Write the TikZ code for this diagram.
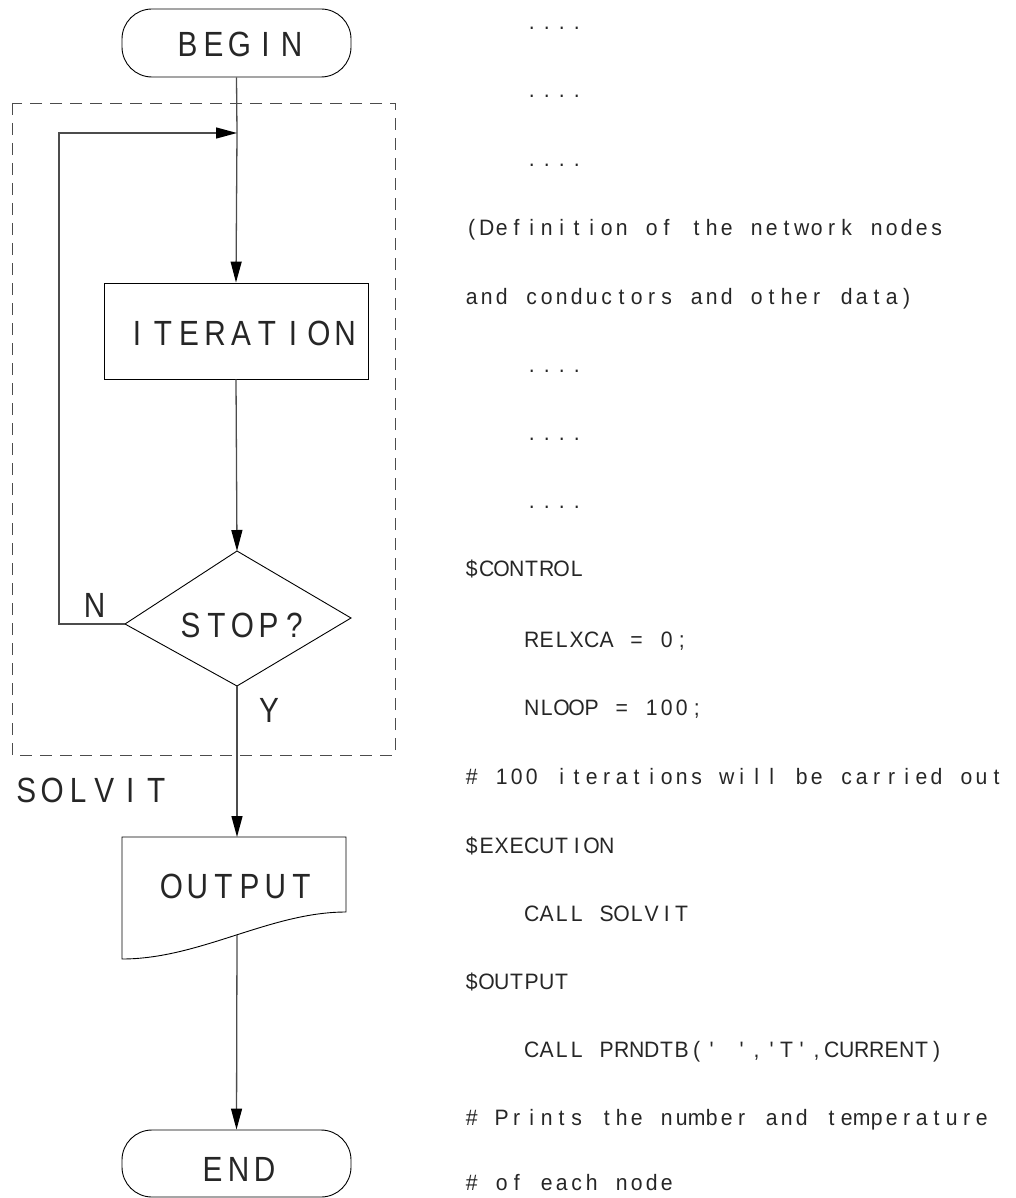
\documentclass[tikz,border=0pt]{standalone}
\usepackage{fontspec}
\usetikzlibrary{arrows.meta}
\newfontfamily\flowfont[FakeStretch=0.85]{Liberation Sans}
\newfontfamily\codefont[FakeStretch=0.95]{Liberation Sans}
\makeatletter
\def\mono@end{\mono@end@}
\newcommand\monoline[2]{\begingroup\def\mono@w{#1}\mono@scan#2\mono@end\endgroup}
\def\mono@scan#1{\ifx\mono@end#1\else\makebox[\mono@w][c]{#1}\expandafter\mono@scan\fi}
\makeatother
\newcommand\bigmono[1]{\monoline{26pt}{#1}}
\newcommand\smallmono[1]{\monoline{15pt}{#1}}
\begin{document}
\begin{tikzpicture}[x=1pt,y=-1pt,
  shapeline/.style={draw=black, line width=0.9pt},
  conn/.style={draw=black!70, line width=1.3pt, -{Triangle[length=21pt,width=11pt,color=black]}},
  flowtext/.style={font=\flowfont\fontsize{35}{38}\selectfont, text=black!85, inner sep=0pt},
  codetext/.style={font=\codefont\fontsize{22.3}{24}\selectfont, text=black!85, inner sep=0pt, anchor=base west},
  terminal/.style={shapeline, rectangle, rounded corners=30pt, minimum width=229pt, minimum height=68pt},
  dashedbox/.style={draw=black!70, line width=0.9pt, dash pattern=on 12pt off 8pt}
]
\useasboundingbox (0,0) rectangle (1015,1198);

% dashed SOLVIT frame
\draw[dashedbox] (12,103) rectangle (395,755);
\node[flowtext, anchor=west] (solvit) at (13,790) {\bigmono{SOLVIT}};

% terminals
\node[terminal] (begin) at (236.5,43) {};
\node[flowtext] (begintxt) at (239.5,44.5) {\bigmono{BEGIN}};
\node[terminal, minimum height=67pt] (end) at (236.5,1163.5) {};
\node[flowtext] (endtxt) at (238.5,1169.5) {\bigmono{END}};

% iteration box
\node[shapeline, rectangle, minimum width=264pt, minimum height=96pt] (iter) at (236,331) {};
\node[flowtext] (itertxt) at (241,333) {\bigmono{ITERATION}};

% decision diamond
\coordinate (dtop) at (237,551);
\coordinate (dright) at (351,618);
\coordinate (dbot) at (237,686);
\coordinate (dleft) at (125,624);
\draw[shapeline] (dtop) -- (dright) -- (dbot) -- (dleft) -- cycle;
\node[flowtext] (stop) at (242.5,625) {\bigmono{STOP?}};
\node[flowtext] (nlab) at (94.5,605.5) {N};
\node[flowtext] (ylab) at (269,710) {Y};

% output document shape
\coordinate (otop) at (237,837);
\coordinate (obot) at (237,935);
\draw[shapeline] (122,837) -- (346,837) -- (346,912)
   .. controls (270,912) and (200,959) .. (122,959) -- cycle;
\node[flowtext] (outtxt) at (236.5,886.5) {\bigmono{OUTPUT}};

% connectors
\coordinate (join) at (237,133);
\coordinate (loopcorner) at (59,624);
\draw[draw=black!70, line width=1.3pt] (begin.south) -- (join);
\draw[conn] (join) -- (iter.north);
\draw[conn] (dleft) -- (loopcorner) |- (join);
\draw[conn] (iter.south) -- (dtop);
\draw[conn] (dbot) -- (otop);
\draw[conn] (obot) -- (end.north);

% code listing
\node[codetext] (c0)  at (524,30)   {\smallmono{....}};
\node[codetext] (c1)  at (524,98)   {\smallmono{....}};
\node[codetext] (c2)  at (524,167)  {\smallmono{....}};
\node[codetext] (c3)  at (464,236)  {\smallmono{(Definition~of~the~network~nodes}};
\node[codetext] (c4)  at (464,304)  {\smallmono{and~conductors~and~other~data)}};
\node[codetext] (c5)  at (524,372)  {\smallmono{....}};
\node[codetext] (c6)  at (524,440)  {\smallmono{....}};
\node[codetext] (c7)  at (524,508)  {\smallmono{....}};
\node[codetext] (c8)  at (464,576)  {\smallmono{\$CONTROL}};
\node[codetext] (c9)  at (524,647)  {\smallmono{RELXCA~=~0;}};
\node[codetext] (c10) at (524,715)  {\smallmono{NLOOP~=~100;}};
\node[codetext] (c11) at (464,784)  {\smallmono{\#~100~iterations~will~be~carried~out}};
\node[codetext] (c12) at (464,853)  {\smallmono{\$EXECUTION}};
\node[codetext] (c13) at (524,921)  {\smallmono{CALL~SOLVIT}};
\node[codetext] (c14) at (464,989)  {\smallmono{\$OUTPUT}};
\node[codetext] (c15) at (524,1057) {\smallmono{CALL~PRNDTB(\textquotesingle~\textquotesingle,\textquotesingle T\textquotesingle,CURRENT)}};
\node[codetext] (c16) at (464,1125) {\smallmono{\#~Prints~the~number~and~temperature}};
\node[codetext] (c17) at (464,1190) {\smallmono{\#~of~each~node}};
\end{tikzpicture}
\end{document}
